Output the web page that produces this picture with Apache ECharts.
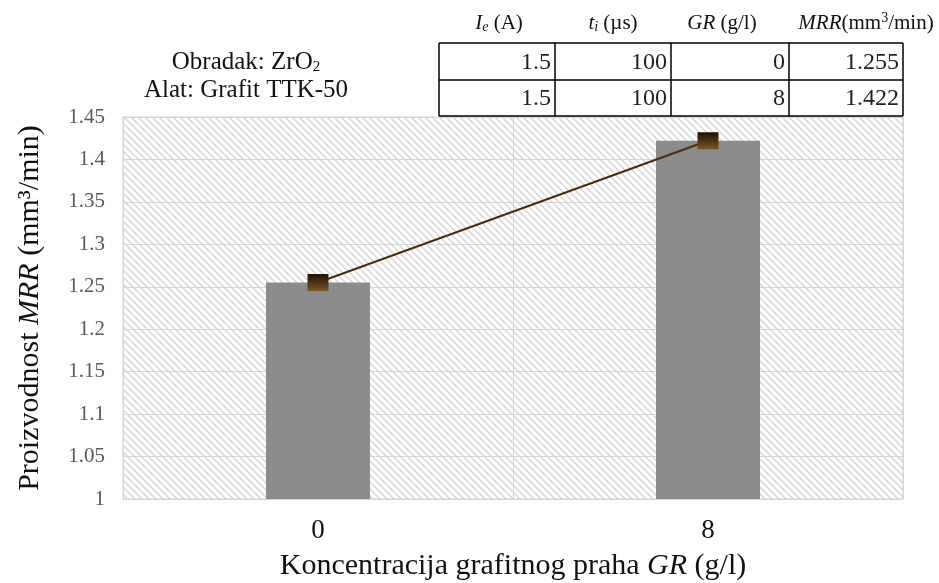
<!DOCTYPE html>
<html>
<head>
<meta charset="utf-8">
<script src="https://cdn.jsdelivr.net/npm/echarts@6/dist/echarts.min.js"></script>
<style>
  html, body { margin: 0; padding: 0; background: #fff; }
  #main { width: 939px; height: 583px; }
</style>
</head>
<body>
<div id="main"></div>
<script>
// podaci
var categories = ['0', '8'];
var mrrValues = [1.255, 1.422];
var tableIe = ['1.5', '1.5'];
var tableTi = ['100', '100'];
var tableGR = ['0', '8'];
var tableMRR = ['1.255', '1.422'];

var serif = 'Liberation Serif, Times New Roman, serif';

// kosa srafura za pozadinu
function hatch() {
  var c = document.createElement('canvas');
  c.width = 7; c.height = 7;
  var ctx = c.getContext('2d');
  ctx.fillStyle = '#fff';
  ctx.fillRect(0, 0, 7, 7);
  ctx.strokeStyle = '#d6d6d6';
  ctx.lineWidth = 1.4;
  ctx.beginPath();
  ctx.moveTo(-1, -1); ctx.lineTo(8, 8);
  ctx.moveTo(-8, -1); ctx.lineTo(1, 8);
  ctx.moveTo(6, -1); ctx.lineTo(15, 8);
  ctx.stroke();
  return c;
}

var myChart = echarts.init(document.getElementById('main'));

// tabela gore desno
var colX = [439, 555, 671, 789, 903];
var rowY = [43, 80, 116];
var tbl = [];
for (var i = 0; i < colX.length; i++) {
  tbl.push({ type: 'line', shape: { x1: colX[i], y1: rowY[0], x2: colX[i], y2: rowY[2] }, style: { stroke: '#000', lineWidth: 1.5 } });
}
for (var j = 0; j < rowY.length; j++) {
  tbl.push({ type: 'line', shape: { x1: colX[0], y1: rowY[j], x2: colX[4], y2: rowY[j] }, style: { stroke: '#000', lineWidth: 1.5 } });
}
var cols = [tableIe, tableTi, tableGR, tableMRR];
cols.forEach(function (col, ci) {
  col.forEach(function (v, ri) {
    tbl.push({
      type: 'text', x: colX[ci + 1] - 4, y: (rowY[ri] + rowY[ri + 1]) / 2 + 1,
      style: { text: v, font: '24px ' + serif, fill: '#222', align: 'right', verticalAlign: 'middle' }
    });
  });
});
var hdrRich = {
  n: { fontFamily: serif, fontSize: 21, fill: '#111' },
  i: { fontFamily: serif, fontSize: 21, fontStyle: 'italic', fill: '#111' },
  sub: { fontFamily: serif, fontSize: 14, fontStyle: 'italic', fill: '#111', padding: [9, 0, 0, 0] },
  sup: { fontFamily: serif, fontSize: 14, fill: '#111', padding: [0, 0, 9, 0] }
};
var headers = [
  { x: 499, t: '{i|I}{sub|e}{n| (A)}' },
  { x: 613, t: '{i|t}{sub|i}{n| (µs)}' },
  { x: 722, t: '{i|GR}{n| (g/l)}' },
  { x: 866, t: '{i|MRR}{n|(mm}{sup|3}{n|/min)}' }
];
headers.forEach(function (h) {
  tbl.push({ type: 'text', x: h.x, y: 23, style: { text: h.t, rich: hdrRich, align: 'center', verticalAlign: 'middle' } });
});

tbl.push({
  type: 'text', x: 246, y: 62,
  style: { text: '{n|Obradak: ZrO}{sub|2}', align: 'center', verticalAlign: 'middle',
    rich: { n: { fontFamily: serif, fontSize: 25, fill: '#111' }, sub: { fontFamily: serif, fontSize: 15, fill: '#111', padding: [10, 0, 0, 0] } } }
});
tbl.push({
  type: 'text', x: 246, y: 90,
  style: { text: 'Alat: Grafit TTK-50', font: '25px ' + serif, fill: '#111', align: 'center', verticalAlign: 'middle' }
});

var option = {
  backgroundColor: '#fff',
  animation: false,
  grid: {
    left: 123, right: 36, top: 117, bottom: 84,
    outerBoundsMode: 'none',
    containLabel: false,
    show: true,
    backgroundColor: { image: hatch(), repeat: 'repeat' },
    borderColor: '#d0d0d0',
    borderWidth: 1
  },
  xAxis: {
    type: 'category',
    data: categories,
    name: '{n|Koncentracija grafitnog praha }{i|GR}{n| (g/l)}',
    nameLocation: 'middle',
    nameGap: 52,
    nameTextStyle: {
      rich: {
        n: { fontFamily: serif, fontSize: 30, color: '#111' },
        i: { fontFamily: serif, fontSize: 30, fontStyle: 'italic', color: '#111' }
      }
    },
    axisLine: { show: false },
    axisTick: { show: false },
    axisLabel: { fontFamily: serif, fontSize: 27, color: '#111', margin: 18 },
    splitLine: { show: true, lineStyle: { color: '#d6d6d6', width: 1 } }
  },
  yAxis: {
    type: 'value',
    min: 1, max: 1.45, interval: 0.05,
    name: '{n|Proizvodnost }{i|MRR}{n| (mm³/min)}',
    nameLocation: 'middle',
    nameGap: 78,
    nameTextStyle: {
      rich: {
        n: { fontFamily: serif, fontSize: 30, color: '#111' },
        i: { fontFamily: serif, fontSize: 30, fontStyle: 'italic', color: '#111' }
      }
    },
    axisLine: { show: false },
    axisTick: { show: false },
    axisLabel: {
      fontFamily: serif, fontSize: 21, color: '#595959', margin: 18,
      formatter: function (v) { return String(Math.round(v * 100) / 100); }
    },
    splitLine: { show: true, lineStyle: { color: '#d6d6d6', width: 1 } }
  },
  series: [
    {
      type: 'bar',
      data: mrrValues,
      barWidth: 104,
      itemStyle: { color: '#8c8c8c' },
      z: 2
    },
    {
      type: 'line',
      data: mrrValues,
      symbol: 'rect',
      symbolSize: [21, 17],
      showSymbol: true,
      lineStyle: { color: '#4a2c0c', width: 2 },
      itemStyle: {
        color: new echarts.graphic.LinearGradient(0, 0, 0, 1, [
          { offset: 0, color: '#1e0e00' },
          { offset: 1, color: '#7a5820' }
        ]),
        borderWidth: 0
      },
      z: 3
    }
  ],
  graphic: tbl
};
myChart.setOption(option);
</script>
</body>
</html>
